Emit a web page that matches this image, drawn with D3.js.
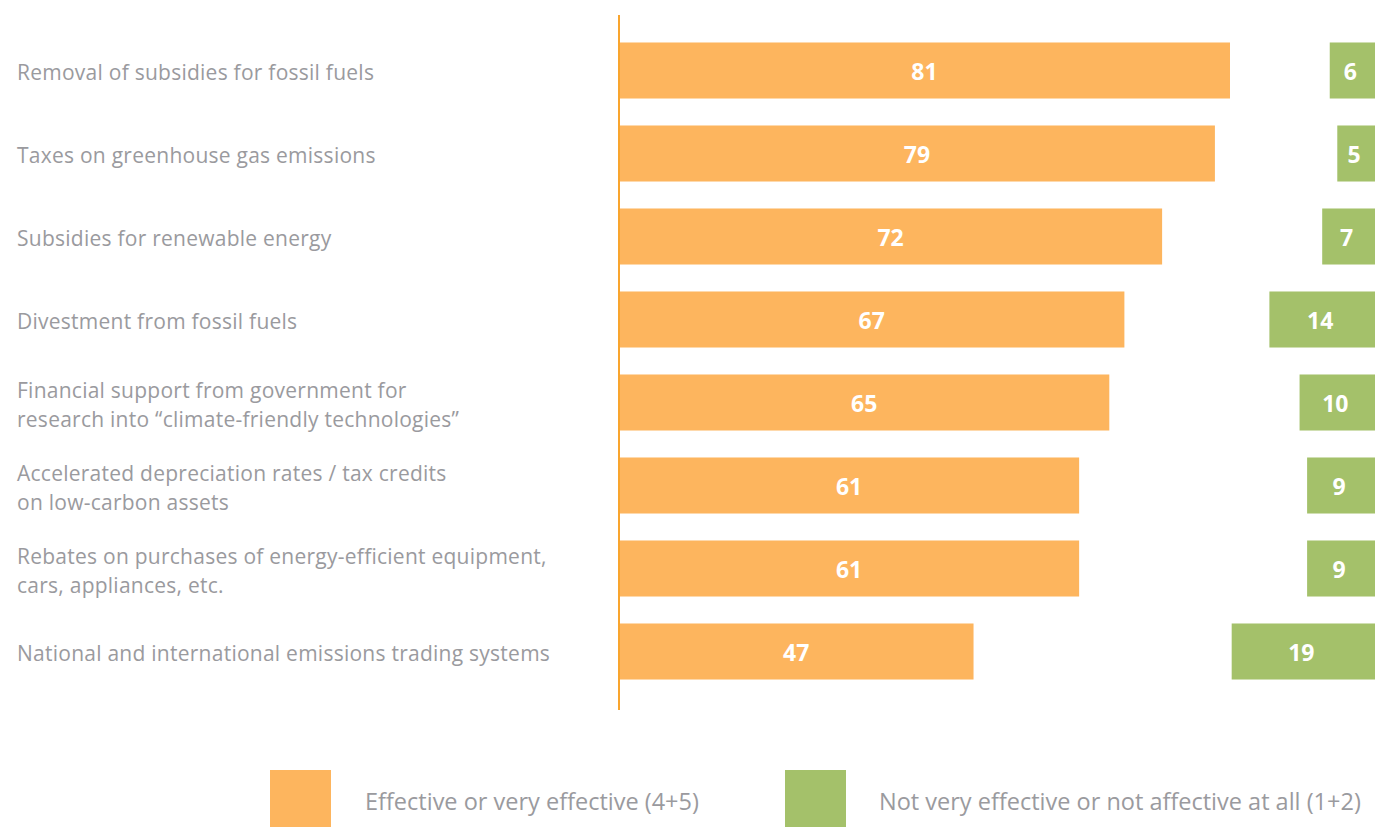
<!DOCTYPE html>
<html>
<head>
<meta charset="utf-8">
<script src="https://cdn.jsdelivr.net/npm/d3@7"></script>
<style>
  body { margin: 0; background: #fff; }
  svg { display: block; font-family: "Open Sans", Lato, sans-serif; }
</style>
</head>
<body>
<svg class="chart"></svg>
<script>
// survey items (one line per array entry)
var categories = [
    ["Removal of subsidies for fossil fuels"],
    ["Taxes on greenhouse gas emissions"],
    ["Subsidies for renewable energy"],
    ["Divestment from fossil fuels"],
    ["Financial support from government for", "research into \u201cclimate-friendly technologies\u201d"],
    ["Accelerated depreciation rates / tax credits", "on low-carbon assets"],
    ["Rebates on purchases of energy-efficient equipment,", "cars, appliances, etc."],
    ["National and international emissions trading systems"]
];
var effective = [81, 79, 72, 67, 65, 61, 61, 47];
var notEffective = [6, 5, 7, 14, 10, 9, 9, 19];
var legendLabels = ["Effective or very effective (4+5)", "Not very effective or not affective at all (1+2)"];
var colors = ["#FDB55E", "#A4C16A"];

const canvas = {width: 1375, height: 827};
const axisX = 619;

const chart = d3.select(".chart")
    .attr("width", canvas.width)
    .attr("height", canvas.height);

const x = d3.scaleLinear()
    .domain([0, 81])
    .range([0, 611]);

const y = d3.scaleBand()
    .domain(d3.range(categories.length))
    .range([29, 693])
    .paddingInner(0.325)
    .paddingOuter(0.1625);

// orange bars
chart.selectAll("rect.eff")
    .data(effective)
    .enter().append("rect")
    .attr("class", "eff")
    .attr("x", axisX)
    .attr("y", (d, i) => y(i))
    .attr("width", d => x(d))
    .attr("height", y.bandwidth())
    .attr("fill", colors[0]);

chart.selectAll("text.eff")
    .data(effective)
    .enter().append("text")
    .attr("class", "eff")
    .attr("x", d => axisX + x(d) / 2)
    .attr("y", (d, i) => y(i) + y.bandwidth() / 2 + 1)
    .attr("dy", "0.36em")
    .attr("text-anchor", "middle")
    .attr("fill", "#fff")
    .style("font-size", "23px")
    .style("font-weight", "bold")
    .text(d => d);

// green bars, right aligned
chart.selectAll("rect.neff")
    .data(notEffective)
    .enter().append("rect")
    .attr("class", "neff")
    .attr("x", d => canvas.width - x(d))
    .attr("y", (d, i) => y(i))
    .attr("width", d => x(d))
    .attr("height", y.bandwidth())
    .attr("fill", colors[1]);

chart.selectAll("text.neff")
    .data(notEffective)
    .enter().append("text")
    .attr("class", "neff")
    .attr("x", d => canvas.width - x(d) / 2 - 2)
    .attr("y", (d, i) => y(i) + y.bandwidth() / 2 + 1)
    .attr("dy", "0.36em")
    .attr("text-anchor", "middle")
    .attr("fill", "#fff")
    .style("font-size", "23px")
    .style("font-weight", "bold")
    .text(d => d);

// vertical axis line
chart.append("line")
    .attr("x1", axisX).attr("x2", axisX)
    .attr("y1", 15).attr("y2", 710)
    .attr("stroke", "#F9A52E")
    .attr("stroke-width", 2);

// category labels
const labels = chart.selectAll("text.cat")
    .data(categories)
    .enter().append("text")
    .attr("class", "cat")
    .attr("x", 17)
    .attr("y", (d, i) => y(i) + y.bandwidth() / 2 + 2 - (d.length - 1) * 14.5)
    .attr("fill", "#9a9a9e")
    .style("font-size", "21px")
    .style("letter-spacing", "0.25px");

labels.selectAll("tspan")
    .data(d => d)
    .enter().append("tspan")
    .attr("x", 17)
    .attr("dy", (d, i) => i === 0 ? "0.36em" : "29px")
    .text(d => d);

// legend
const legendX = [270, 785];
const legend = chart.selectAll("g.legend")
    .data(legendLabels)
    .enter().append("g")
    .attr("class", "legend")
    .attr("transform", (d, i) => "translate(" + legendX[i] + ",770)");

legend.append("rect")
    .attr("width", 61)
    .attr("height", 57)
    .attr("fill", (d, i) => colors[i]);

legend.append("text")
    .attr("x", (d, i) => i === 0 ? 95 : 94)
    .attr("y", 32)
    .attr("dy", "0.36em")
    .attr("fill", "#9a9a9e")
    .style("font-size", "23.5px")
    .text(d => d);
</script>
</body>
</html>
